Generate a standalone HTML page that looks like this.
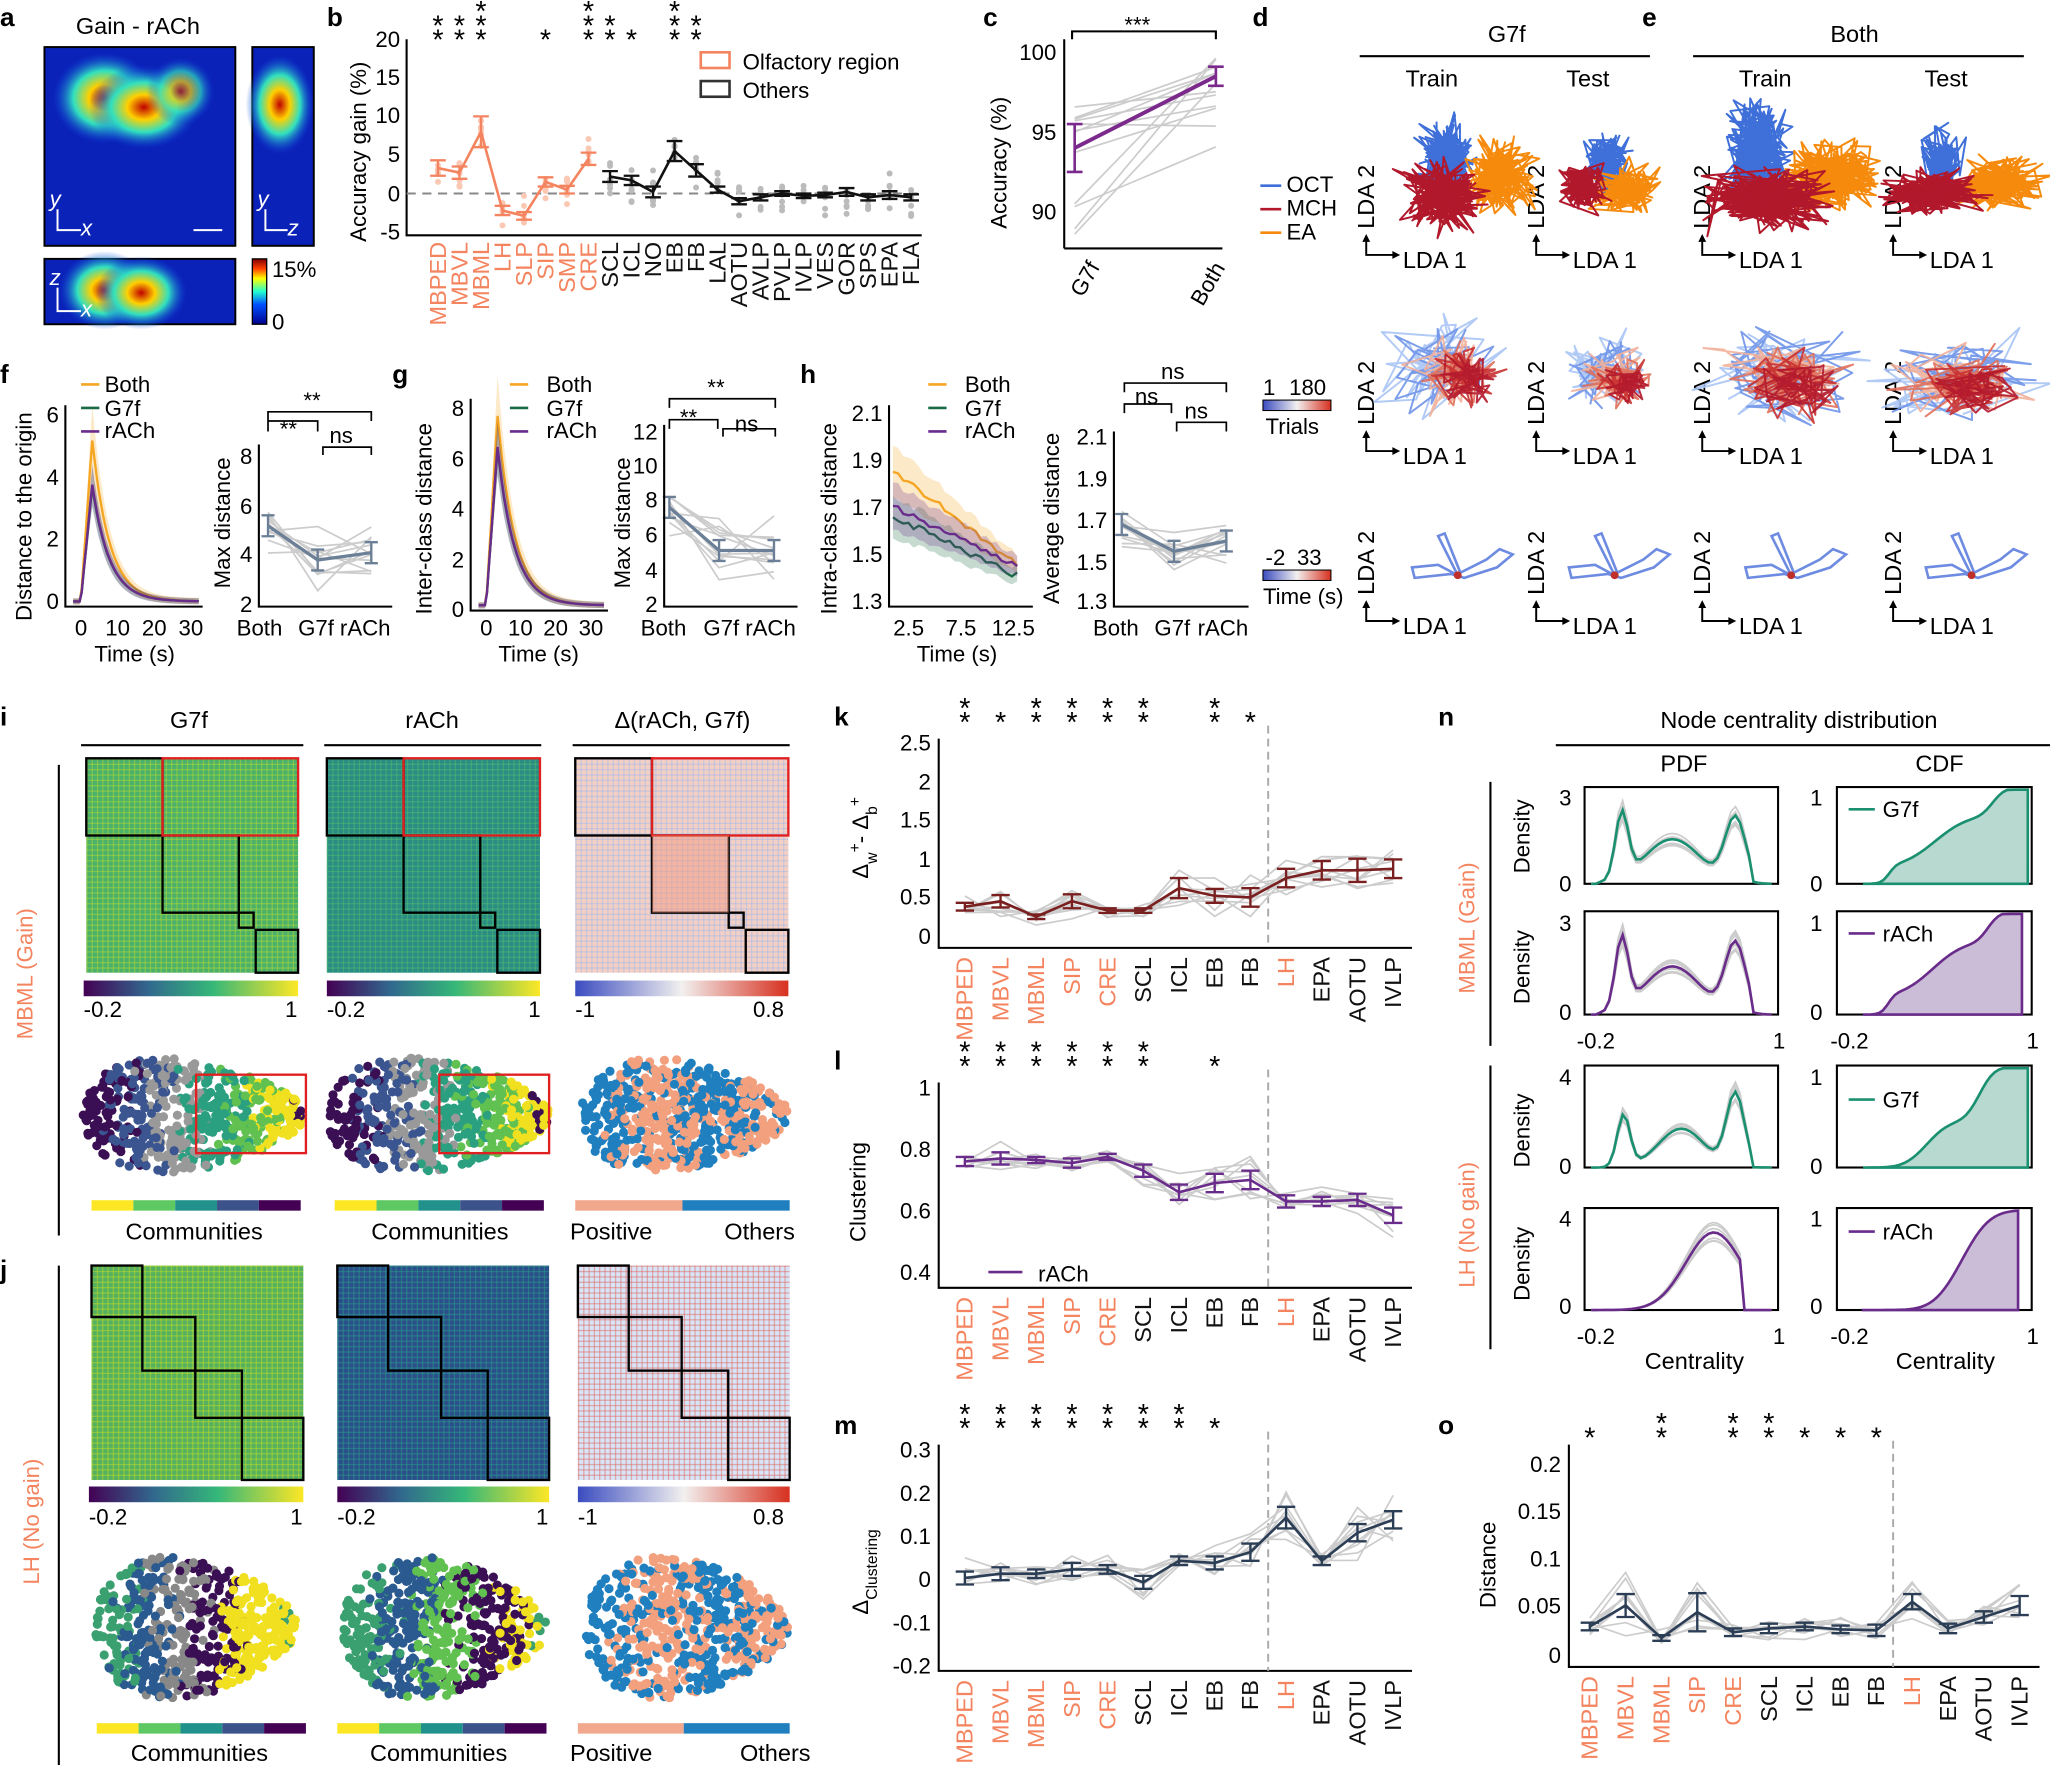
<!DOCTYPE html>
<html><head><meta charset="utf-8"><style>
html,body{margin:0;padding:0;background:#fff}
svg{display:block}
text{font-family:"Liberation Sans",Arial,sans-serif;font-size:17px;fill:#000}
.t{font-size:18px}
.b{font-weight:bold;font-size:20px}
.o{fill:#f4845f}
.ax{stroke:#000;stroke-width:1.6;fill:none}
.g{stroke:#ccc;stroke-width:1.3;fill:none}
</style></head><body>
<svg id="s" width="2050" height="1765" viewBox="0 0 1568 1350" xmlns="http://www.w3.org/2000/svg">
<defs>
<linearGradient id="jet" x1="0" y1="1" x2="0" y2="0"><stop offset="0" stop-color="#00008f"/><stop offset=".3" stop-color="#0050ff"/><stop offset=".5" stop-color="#20ffd0"/><stop offset=".7" stop-color="#ffff00"/><stop offset=".85" stop-color="#ff4000"/><stop offset="1" stop-color="#800000"/></linearGradient>
<linearGradient id="vir" x1="0" x2="1"><stop offset="0" stop-color="#440154"/><stop offset=".3" stop-color="#31688e"/><stop offset=".6" stop-color="#35b779"/><stop offset="1" stop-color="#fde725"/></linearGradient>
<linearGradient id="cw" x1="0" x2="1"><stop offset="0" stop-color="#3b4cc0"/><stop offset=".5" stop-color="#f2f0ef"/><stop offset="1" stop-color="#d7301f"/></linearGradient>
<radialGradient id="blob"><stop offset="0" stop-color="#c00000"/><stop offset=".3" stop-color="#ffd000"/><stop offset=".6" stop-color="#30e0c0"/><stop offset="1" stop-color="#1040e0" stop-opacity="0"/></radialGradient>
</defs>
<g id="dyn"></g>
<text class="b" x="0" y="20">a</text><text class="b" x="250" y="20">b</text><text class="b" x="752" y="20">c</text>
<text class="b" x="958" y="20">d</text><text class="b" x="1256" y="20">e</text>
<text class="b" x="0" y="293">f</text><text class="b" x="300" y="293">g</text><text class="b" x="612" y="293">h</text>
<text class="b" x="0" y="555">i</text><text class="b" x="0" y="978">j</text><text class="b" x="638" y="555">k</text>
<text class="b" x="638" y="818">l</text><text class="b" x="638" y="1097">m</text><text class="b" x="1100" y="555">n</text><text class="b" x="1100" y="1097">o</text>
<!-- a -->
<text class="t" x="58" y="26">Gain - rACh</text>
<rect x="34" y="36" width="146" height="152" fill="#0a22b8" stroke="#000" stroke-width="1.5"/>
<ellipse cx="80" cy="75" rx="40" ry="35" fill="url(#blob)"/><ellipse cx="110" cy="82" rx="42" ry="32" fill="url(#blob)"/><ellipse cx="138" cy="70" rx="26" ry="26" fill="url(#blob)" opacity=".7"/>
<rect x="193" y="36" width="47" height="152" fill="#0a22b8" stroke="#000" stroke-width="1.5"/>
<ellipse cx="214" cy="80" rx="26" ry="38" fill="url(#blob)"/>
<rect x="34" y="198" width="146" height="50" fill="#0a22b8" stroke="#000" stroke-width="1.5"/>
<ellipse cx="80" cy="222" rx="35" ry="30" fill="url(#blob)"/><ellipse cx="108" cy="224" rx="35" ry="28" fill="url(#blob)"/>
<rect x="193" y="198" width="11" height="50" fill="url(#jet)" stroke="#000"/>
<text x="208" y="212">15%</text><text x="208" y="252">0</text>
<g stroke="#fff" stroke-width="1.5" fill="none"><path d="M44 160V176H62"/><path d="M203 160V176H220"/><path d="M44 220V238H62"/><path d="M148 176H170"/></g>
<g style="font-style:italic"><text x="38" y="158" style="fill:#fff">y</text><text x="62" y="180" style="fill:#fff">x</text><text x="197" y="158" style="fill:#fff">y</text><text x="220" y="180" style="fill:#fff">z</text><text x="38" y="218" style="fill:#fff">z</text><text x="62" y="242" style="fill:#fff">x</text></g>
<!-- b -->
<path class="ax" d="M311 30V180H705"/>
<g text-anchor="end"><text x="306" y="36">20</text><text x="306" y="65">15</text><text x="306" y="94">10</text><text x="306" y="124">5</text><text x="306" y="154">0</text><text x="306" y="183">-5</text></g>
<path d="M311 148H705" stroke="#888" stroke-width="1.5" stroke-dasharray="7,5"/>
<text transform="translate(280,185) rotate(-90)">Accuracy gain (%)</text>
<g id="blabels"></g>
<rect x="536" y="40" width="22" height="12" fill="none" stroke="#f4845f" stroke-width="2"/><text x="568" y="53">Olfactory region</text>
<rect x="536" y="62" width="22" height="12" fill="none" stroke="#333" stroke-width="2"/><text x="568" y="75">Others</text>
<!-- c -->
<path class="ax" d="M814 30V190"/><path class="ax" d="M814 190H935"/>
<g text-anchor="end"><text x="808" y="46">100</text><text x="808" y="107">95</text><text x="808" y="168">90</text></g>
<text transform="translate(770,175) rotate(-90)">Accuracy (%)</text>
<path d="M820 30V24H930V30" class="ax"/><text x="860" y="25">***</text>
<text transform="translate(828,228) rotate(-60)">G7f</text><text transform="translate(920,235) rotate(-60)">Both</text>
<!-- d/e headers -->
<text class="t" x="1138" y="32">G7f</text><path class="ax" d="M1040 43H1262"/>
<text class="t" x="1400" y="32">Both</text><path class="ax" d="M1295 43H1548"/>
<text class="t" x="1075" y="66">Train</text><text class="t" x="1198" y="66">Test</text><text class="t" x="1330" y="66">Train</text><text class="t" x="1472" y="66">Test</text>
<text x="984" y="147">OCT</text><text x="984" y="165">MCH</text><text x="984" y="183">EA</text>
<path d="M964 142h16" stroke="#3f6fd8" stroke-width="2"/><path d="M964 160h16" stroke="#b2182b" stroke-width="2"/><path d="M964 178h16" stroke="#f58a0c" stroke-width="2"/>
<text x="966" y="302">1</text><text x="986" y="302">180</text><rect x="966" y="306" width="52" height="8" fill="url(#cw)" stroke="#000" stroke-width=".8"/><text x="968" y="332">Trials</text>
<text x="968" y="432">-2</text><text x="992" y="432">33</text><rect x="966" y="436" width="52" height="8" fill="url(#cw)" stroke="#000" stroke-width=".8"/><text x="966" y="462">Time (s)</text>
<g id="lda"></g>
<!-- f -->
<text x="80" y="300">Both</text><text x="80" y="318">G7f</text><text x="80" y="335">rACh</text>
<path d="M62 294h14" stroke="#f5a623" stroke-width="2"/><path d="M62 312h14" stroke="#1a6b45" stroke-width="2"/><path d="M62 330h14" stroke="#6a2c8a" stroke-width="2"/>
<path class="ax" d="M50 310V464H155"/>
<g text-anchor="end"><text x="45" y="323">6</text><text x="45" y="371">4</text><text x="45" y="418">2</text><text x="45" y="466">0</text></g>
<g text-anchor="middle"><text x="62" y="486">0</text><text x="90" y="486">10</text><text x="118" y="486">20</text><text x="146" y="486">30</text><text x="103" y="506">Time (s)</text></g>
<text transform="translate(24,475) rotate(-90)">Distance to the origin</text>
<path class="ax" d="M198 340V464H300"/>
<g text-anchor="end"><text x="193" y="355">8</text><text x="193" y="393">6</text><text x="193" y="430">4</text><text x="193" y="468">2</text></g>
<text transform="translate(176,450) rotate(-90)">Max distance</text>
<text x="181" y="486">Both</text><text x="228" y="486">G7f</text><text x="260" y="486">rACh</text>
<path class="ax" d="M205 322V315H284V322M205 330V322H243V330M247 348V342H284V348" style="stroke-width:1.3"/><text x="232" y="312">**</text><text x="214" y="334">**</text><text x="252" y="339">ns</text>
<!-- g -->
<text x="418" y="300">Both</text><text x="418" y="318">G7f</text><text x="418" y="335">rACh</text>
<path d="M390 294h14" stroke="#f5a623" stroke-width="2"/><path d="M390 312h14" stroke="#1a6b45" stroke-width="2"/><path d="M390 330h14" stroke="#6a2c8a" stroke-width="2"/>
<path class="ax" d="M360 305V467H465"/>
<g text-anchor="end"><text x="355" y="318">8</text><text x="355" y="357">6</text><text x="355" y="395">4</text><text x="355" y="434">2</text><text x="355" y="472">0</text></g>
<g text-anchor="middle"><text x="372" y="486">0</text><text x="398" y="486">10</text><text x="425" y="486">20</text><text x="452" y="486">30</text><text x="412" y="506">Time (s)</text></g>
<text transform="translate(330,470) rotate(-90)">Inter-class distance</text>
<path class="ax" d="M508 325V464H610"/>
<g text-anchor="end"><text x="503" y="336">12</text><text x="503" y="362">10</text><text x="503" y="388">8</text><text x="503" y="415">6</text><text x="503" y="442">4</text><text x="503" y="468">2</text></g>
<text transform="translate(482,450) rotate(-90)">Max distance</text>
<text x="490" y="486">Both</text><text x="538" y="486">G7f</text><text x="570" y="486">rACh</text>
<path class="ax" d="M512 312V305H593V312M512 328V321H549V328M553 334V328H593V334" style="stroke-width:1.3"/><text x="541" y="302">**</text><text x="520" y="325">**</text><text x="562" y="330">ns</text>
<!-- h -->
<text x="738" y="300">Both</text><text x="738" y="318">G7f</text><text x="738" y="335">rACh</text>
<path d="M710 294h14" stroke="#f5a623" stroke-width="2"/><path d="M710 312h14" stroke="#1a6b45" stroke-width="2"/><path d="M710 330h14" stroke="#6a2c8a" stroke-width="2"/>
<path class="ax" d="M680 310V464H790"/>
<g text-anchor="end"><text x="675" y="322">2.1</text><text x="675" y="358">1.9</text><text x="675" y="394">1.7</text><text x="675" y="430">1.5</text><text x="675" y="466">1.3</text></g>
<g text-anchor="middle"><text x="695" y="486">2.5</text><text x="735" y="486">7.5</text><text x="775" y="486">12.5</text><text x="732" y="506">Time (s)</text></g>
<text transform="translate(640,470) rotate(-90)">Intra-class distance</text>
<path class="ax" d="M852 330V464H955"/>
<g text-anchor="end"><text x="847" y="340">2.1</text><text x="847" y="372">1.9</text><text x="847" y="404">1.7</text><text x="847" y="436">1.5</text><text x="847" y="466">1.3</text></g>
<text transform="translate(810,462) rotate(-90)">Average distance</text>
<text x="836" y="486">Both</text><text x="883" y="486">G7f</text><text x="916" y="486">rACh</text>
<path class="ax" d="M860 300V293H938V300M860 316V309H896V316M900 330V323H938V330" style="stroke-width:1.3"/><text x="888" y="290">ns</text><text x="868" y="309">ns</text><text x="906" y="320">ns</text>
<!-- i / j -->
<text class="t" x="130" y="557">G7f</text><text class="t" x="310" y="557">rACh</text><text class="t" x="470" y="557">Δ(rACh, G7f)</text>
<path class="ax" d="M62 570H232M248 570H414M438 570H604"/>
<path class="ax" d="M45 585V945M45 968V1350"/>
<text transform="translate(25,795) rotate(-90)" style="fill:#f4845f">MBML (Gain)</text>
<text transform="translate(30,1212) rotate(-90)" style="fill:#f4845f">LH (No gain)</text>
<g id="mats"></g>
<g><text x="64" y="778">-0.2</text><text x="218" y="778">1</text><text x="250" y="778">-0.2</text><text x="404" y="778">1</text><text x="440" y="778">-1</text><text x="576" y="778">0.8</text></g>
<g><text x="68" y="1166">-0.2</text><text x="222" y="1166">1</text><text x="258" y="1166">-0.2</text><text x="410" y="1166">1</text><text x="442" y="1166">-1</text><text x="576" y="1166">0.8</text></g>
<text class="t" x="96" y="948">Communities</text><text class="t" x="284" y="948">Communities</text><text class="t" x="436" y="948">Positive</text><text class="t" x="554" y="948">Others</text>
<text class="t" x="100" y="1347">Communities</text><text class="t" x="283" y="1347">Communities</text><text class="t" x="436" y="1347">Positive</text><text class="t" x="566" y="1347">Others</text>
<!-- k l m o axes -->
<path class="ax" d="M718 565V725H1080"/>
<g text-anchor="end"><text x="712" y="574">2.5</text><text x="712" y="604">2</text><text x="712" y="633">1.5</text><text x="712" y="663">1</text><text x="712" y="692">0.5</text><text x="712" y="722">0</text></g>
<text transform="translate(664,672) rotate(-90)">Δ<tspan baseline-shift="sub" font-size="12">w</tspan><tspan baseline-shift="super" font-size="12">+</tspan>- Δ<tspan baseline-shift="sub" font-size="12">b</tspan><tspan baseline-shift="super" font-size="12">+</tspan></text>
<path class="ax" d="M718 828V985H1080"/>
<g text-anchor="end"><text x="712" y="838">1</text><text x="712" y="885">0.8</text><text x="712" y="932">0.6</text><text x="712" y="979">0.4</text></g>
<text transform="translate(662,950) rotate(-90)">Clustering</text>
<path d="M756 973h26" stroke="#6a2c8a" stroke-width="2"/><text x="794" y="980">rACh</text>
<path class="ax" d="M718 1105V1278H1080"/>
<g text-anchor="end"><text x="712" y="1115">0.3</text><text x="712" y="1148">0.2</text><text x="712" y="1181">0.1</text><text x="712" y="1214">0</text><text x="712" y="1247">-0.1</text><text x="712" y="1280">-0.2</text></g>
<text transform="translate(664,1235) rotate(-90)">Δ<tspan baseline-shift="sub" font-size="12">Clustering</tspan></text>
<path class="ax" d="M1200 1105V1275H1560"/>
<g text-anchor="end"><text x="1194" y="1126">0.2</text><text x="1194" y="1162">0.15</text><text x="1194" y="1198">0.1</text><text x="1194" y="1234">0.05</text><text x="1194" y="1272">0</text></g>
<text transform="translate(1144,1230) rotate(-90)">Distance</text>
<g id="cats"></g>
<!-- n -->
<text class="t" x="1270" y="557">Node centrality distribution</text><path class="ax" d="M1190 570H1568"/>
<text class="t" x="1270" y="590">PDF</text><text class="t" x="1465" y="590">CDF</text>
<path class="ax" d="M1140 598V800M1140 815V1032"/>
<text transform="translate(1128,760) rotate(-90)" style="fill:#f4845f">MBML (Gain)</text>
<text transform="translate(1128,985) rotate(-90)" style="fill:#f4845f">LH (No gain)</text>
<g id="ndist"></g>
<g text-anchor="end"><text x="1202" y="616">3</text><text x="1202" y="682">0</text><text x="1202" y="712">3</text><text x="1202" y="780">0</text><text x="1202" y="830">4</text><text x="1202" y="898">0</text><text x="1202" y="938">4</text><text x="1202" y="1005">0</text>
<text x="1394" y="616">1</text><text x="1394" y="682">0</text><text x="1394" y="712">1</text><text x="1394" y="780">0</text><text x="1394" y="830">1</text><text x="1394" y="898">0</text><text x="1394" y="938">1</text><text x="1394" y="1005">0</text></g>
<g><text transform="translate(1170,668) rotate(-90)">Density</text><text transform="translate(1170,768) rotate(-90)">Density</text><text transform="translate(1170,893) rotate(-90)">Density</text><text transform="translate(1170,995) rotate(-90)">Density</text></g>
<text x="1206" y="802">-0.2</text><text x="1356" y="802">1</text><text x="1400" y="802">-0.2</text><text x="1550" y="802">1</text>
<text x="1206" y="1028">-0.2</text><text x="1356" y="1028">1</text><text x="1400" y="1028">-0.2</text><text x="1550" y="1028">1</text>
<text class="t" x="1258" y="1047">Centrality</text><text class="t" x="1450" y="1047">Centrality</text>
<text x="1440" y="625">G7f</text><text x="1440" y="720">rACh</text><text x="1440" y="847">G7f</text><text x="1440" y="948">rACh</text>
<path d="M1414 619h20M1414 841h20" stroke="#1a9070" stroke-width="2"/><path d="M1414 714h20M1414 942h20" stroke="#6a2c8a" stroke-width="2"/>
</svg>
<script>
(function(){
var NS="http://www.w3.org/2000/svg",seed=7;
function R(){seed=(seed*16807)%2147483647;return seed/2147483647;}
function G(){return (R()+R()+R()-1.5)/1.5;}
function el(p,t,a){var e=document.createElementNS(NS,t);for(var k in a)e.setAttribute(k,a[k]);p.appendChild(e);return e;}
function tx(p,x,y,s,a){var e=el(p,"text",Object.assign({x:x,y:y},a||{}));e.textContent=s;return e;}
function stars(p,x,yb,n){for(var j=0;j<n;j++)tx(p,x,yb-j*11,"*",{"text-anchor":"middle",style:"font-size:22px"});}
var dyn=document.getElementById("dyn");
[[34,36,146,152],[193,36,47,152],[34,198,146,50]].forEach(function(b){for(var i=0;i<b[2]*b[3]/30;i++){el(dyn,"rect",{x:b[0]+R()*(b[2]-4),y:b[1]+R()*(b[3]-4),width:4,height:4,fill:R()<.5?"#1850e0":"#0010a0",opacity:.5});}});
var bl=document.getElementById("blabels");
var names=["MBPED","MBVL","MBML","LH","SLP","SIP","SMP","CRE","SCL","ICL","NO","EB","FB","LAL","AOTU","AVLP","PVLP","IVLP","VES","GOR","SPS","EPA","FLA"];
var vals=[3.3,2.7,8,-2.2,-2.9,1.5,.5,4.5,2.2,1.7,.2,5.5,3,.5,-1,-.5,0,-.3,-.2,.2,-.5,-.2,-.5];
var errs=[1,.8,2,.6,.5,.6,.5,.8,.7,.6,.7,1.3,.8,.4,.4,.4,.3,.3,.3,.5,.4,.5,.4];
var st={0:2,1:2,2:3,5:1,7:3,8:2,9:1,11:3,12:2};
function by(v){return 148-5.9*v;}
var po="",pk="";
names.forEach(function(n,i){var x=335+16.45*i,oc=i<8,c=oc?"#f4845f":"#111";
 for(var j=0;j<7;j++)el(bl,"circle",{cx:x,cy:by(vals[i]+G()*4),r:2.3,fill:oc?"#fbc8b4":"#bbb"});
 var y=by(vals[i]);if(oc)po+=(po?"L":"M")+x+" "+y;else pk+=(pk?"L":"M")+x+" "+y;
 el(bl,"path",{d:"M"+x+" "+by(vals[i]+errs[i])+"V"+by(vals[i]-errs[i])+"M"+(x-6)+" "+by(vals[i]+errs[i])+"h12M"+(x-6)+" "+by(vals[i]-errs[i])+"h12",stroke:c,"stroke-width":1.8,fill:"none"});
 tx(bl,0,0,n,{transform:"translate("+(x+6)+",185) rotate(-90)","text-anchor":"end",style:"fill:"+c+";font-size:18px"});
 if(st[i])stars(bl,x,38,st[i]);
});
el(bl,"path",{d:po,stroke:"#f4845f","stroke-width":2,fill:"none"});el(bl,"path",{d:pk,stroke:"#111","stroke-width":2,fill:"none"});
function cy(v){return 40+(100-v)*12.2;}
for(var i=0;i<12;i++){var a=88.5+R()*9,b=94+R()*6;el(dyn,"path",{d:"M822 "+cy(a)+"L930 "+cy(Math.min(b,100)),class:"g"});}
el(dyn,"path",{d:"M822 "+cy(94)+"L930 "+cy(98.5),stroke:"#7b2a8c","stroke-width":3,fill:"none"});
el(dyn,"path",{d:"M822 "+cy(92.5)+"V"+cy(95.5)+"M816 "+cy(92.5)+"h12M816 "+cy(95.5)+"h12M930 "+cy(97.9)+"V"+cy(99.1)+"M924 "+cy(97.9)+"h12M924 "+cy(99.1)+"h12",stroke:"#7b2a8c","stroke-width":2,fill:"none"});
var L=document.getElementById("lda");
var cols=[1045,1175,1302,1448],rows=[195,345,475];
rows.forEach(function(ry){cols.forEach(function(cx){
 el(L,"path",{d:"M"+cx+" "+(ry-12)+"V"+ry+"H"+(cx+22),stroke:"#000","stroke-width":1.5,fill:"none"});
 el(L,"path",{d:"M"+(cx-3)+" "+(ry-10)+"L"+cx+" "+(ry-16)+"L"+(cx+3)+" "+(ry-10)+"ZM"+(cx+20)+" "+(ry-3)+"L"+(cx+26)+" "+ry+"L"+(cx+20)+" "+(ry+3)+"Z",fill:"#000"});
 tx(L,cx+28,ry+10,"LDA 1",{style:"font-size:18px"});
 tx(L,0,0,"LDA 2",{transform:"translate("+(cx+6)+","+(ry-20)+") rotate(-90)",style:"font-size:18px"});
});});
function scrib(cx,cy,sx,sy,col,n,w,op){var d="",x,y;for(var i=0;i<n;i++){x=cx+G()*sx*1.7;y=cy+G()*sy*1.7;d+=(i?"L":"M")+x.toFixed(1)+" "+y.toFixed(1);}el(L,"path",{d:d,stroke:col,"stroke-width":w||1.5,fill:"none",opacity:op||1,"stroke-linejoin":"round"});}
var B="#3f6fd8",Rd="#b2182b",O="#f58a0c";
[[1105,120,16,22,B],[1148,135,22,22,O],[1105,150,26,22,Rd]].forEach(function(q){for(var k=0;k<4;k++)scrib(q[0],q[1],q[2],q[3],q[4],60);});
[[1228,125,14,18,B],[1245,145,20,16,O],[1212,145,15,14,Rd]].forEach(function(q){for(var k=0;k<3;k++)scrib(q[0],q[1],q[2],q[3],q[4],50);});
[[1345,115,20,30,B],[1402,135,26,22,O],[1352,152,38,18,Rd]].forEach(function(q){for(var k=0;k<5;k++)scrib(q[0],q[1],q[2],q[3],q[4],60);});
[[1485,130,12,25,B],[1530,140,28,16,O],[1478,148,32,13,Rd]].forEach(function(q){for(var k=0;k<4;k++)scrib(q[0],q[1],q[2],q[3],q[4],50);});
var rc=["#a9c4f5","#6f93e8","#f2b09a","#e0705a","#c83030","#b2182b"];
[[1115,285,35,30],[1238,290,28,22],[1370,290,55,35],[1505,293,55,28]].forEach(function(q){for(var k=0;k<6;k++)scrib(q[0]+(k-3)*4,q[1]+(k-3)*2,q[2]*(1-k*.1),q[3]*(1-k*.1),rc[k],40,1.5,.9);});
[[1115,440],[1235,440],[1370,440],[1508,440]].forEach(function(q){var x=q[0],y=q[1];
 el(L,"path",{d:"M"+x+" "+y+"l-15 -30l5 -2l12 30l20 -10l10 -8l10 4l-12 10l-25 8l-10 -3l-28 3l-2 -8l20 -2z",stroke:"#5577dd","stroke-width":2,fill:"none",opacity:.85});
 el(L,"circle",{cx:x,cy:y,r:3,fill:"#c0302a"});});
function ts(x0,x1,y0,ys,col,band){var d="",n=ys.length;ys.forEach(function(v,i){d+=(i?"L":"M")+(x0+(x1-x0)*i/(n-1)).toFixed(1)+" "+(y0-v).toFixed(1);});
 if(band){var up="";ys.forEach(function(v,i){var x=(x0+(x1-x0)*i/(n-1)).toFixed(1);up+=(i?"L":"M")+x+" "+(y0-v-band*v/100-2);});for(var i=n-1;i>=0;i--){var x=(x0+(x1-x0)*i/(n-1)).toFixed(1);up+="L"+x+" "+(y0-ys[i]+band*ys[i]/100+2);}el(dyn,"path",{d:up+"Z",fill:col,opacity:.25});}
 el(dyn,"path",{d:d,stroke:col,"stroke-width":1.8,fill:"none"});}
function peak(h){var a=[];for(var i=0;i<60;i++){var t=i/59*33-2;var v=t<0?2:(t<3?2+(h-2)*t/3:2+(h-2)*Math.exp(-(t-3)/4.5));a.push(v);}return a;}
ts(56,152,462,peak(126),"#f5a623",20);ts(56,152,462,peak(90),"#1a6b45",15);ts(56,152,462,peak(92),"#6a2c8a",15);
ts(366,462,465,peak(148),"#f5a623",20);ts(366,462,465,peak(122),"#1a6b45",15);ts(366,462,465,peak(124),"#6a2c8a",15);
function dec(a,b){var r=[];for(var i=0;i<25;i++)r.push(((a+(b-a)*i/24+(R()-.5)*.03)-1.3)*180);return r;}
ts(683,778,460,dec(1.86,1.46),"#f5a623",18);ts(683,778,460,dec(1.66,1.41),"#1a6b45",22);ts(683,778,460,dec(1.7,1.45),"#6a2c8a",22);
function summ(xs,ys,ybase,sc,col,sp){for(var i=0;i<12;i++){var d="";xs.forEach(function(x,j){d+=(j?"L":"M")+x+" "+(ybase-(ys[j]+G()*sp)*sc);});el(dyn,"path",{d:d,class:"g"});}
 var d="";xs.forEach(function(x,i){d+=(i?"L":"M")+x+" "+(ybase-ys[i]*sc);});el(dyn,"path",{d:d,stroke:col,"stroke-width":2.5,fill:"none"});
 xs.forEach(function(x,i){var y=ybase-ys[i]*sc;el(dyn,"path",{d:"M"+x+" "+(y-8)+"V"+(y+8)+"M"+(x-5)+" "+(y-8)+"h10M"+(x-5)+" "+(y+8)+"h10",stroke:col,"stroke-width":1.8});});}
summ([205,243,284],[5.2,3.8,4.1],499.4,18.7,"#6b7f96",1.8);
summ([512,550,592],[7.6,5.1,5.1],488.4,13.2,"#6b7f96",2.5);
summ([858,898,938],[1.67,1.54,1.59],665,158,"#6b7f96",.15);
var C=document.getElementById("cats");
var kn=["MBPED","MBVL","MBML","SIP","CRE","SCL","ICL","EB","FB","LH","EPA","AOTU","IVLP"],org=[1,1,1,1,1,0,0,0,0,1,0,0,0];
function cat(x0,dx,ytop,ybot,fn,vals,errs,col,sa,dash,labY){
 kn.forEach(function(n,i){var x=x0+dx*i;tx(C,0,0,n,{transform:"translate("+(x+6)+","+labY+") rotate(-90)","text-anchor":"end",style:"font-size:18px;fill:"+(org[i]?"#f4845f":"#111")});
  if(sa[i])stars(C,x,ytop-5,sa[i]);});
 el(C,"path",{d:"M"+dash+" "+(ytop-10)+"V"+ybot,stroke:"#aaa","stroke-width":1.5,"stroke-dasharray":"6,4"});
 for(var k=0;k<9;k++){var d="";vals.forEach(function(v,i){d+=(i?"L":"M")+(x0+dx*i)+" "+fn(v+G()*errs[i]*4);});el(C,"path",{d:d,class:"g"});}
 var d="";vals.forEach(function(v,i){var x=x0+dx*i;d+=(i?"L":"M")+x+" "+fn(v);el(C,"path",{d:"M"+x+" "+fn(v+errs[i])+"V"+fn(v-errs[i])+"M"+(x-7)+" "+fn(v+errs[i])+"h14M"+(x-7)+" "+fn(v-errs[i])+"h14",stroke:col,"stroke-width":1.8});});
 el(C,"path",{d:d,stroke:col,"stroke-width":2,fill:"none"});}
cat(738,27.3,565,725,function(v){return 716-v*59.2;},[.38,.45,.25,.45,.33,.33,.62,.52,.5,.75,.85,.85,.87],[.05,.08,.03,.09,.03,.03,.13,.09,.12,.12,.12,.15,.12],"#7a1f1f",[2,1,2,2,2,2,0,2,1,0,0,0,0],970,732);
cat(738,27.3,828,985,function(v){return 973-(v-.4)*235;},[.76,.77,.765,.755,.775,.73,.66,.69,.70,.63,.63,.635,.585],[.015,.02,.01,.015,.01,.02,.025,.03,.03,.02,.015,.02,.025],"#6a2c8a",[2,2,2,2,2,2,0,1,0,0,0,0,0],970,992);
cat(738,27.3,1105,1278,function(v){return 1207-v*330;},[0,.01,.01,.02,.02,-.01,.04,.035,.06,.14,.04,.105,.135],[.015,.015,.01,.015,.01,.015,.01,.015,.02,.025,.01,.02,.02],"#2c3e55",[2,2,2,2,2,2,2,1,0,0,0,0,0],970,1285);
cat(1216,27.4,1112,1275,function(v){return 1266-v*730;},[.03,.052,.018,.045,.024,.028,.03,.027,.026,.056,.028,.04,.052],[.004,.012,.003,.02,.004,.005,.004,.004,.006,.008,.005,.006,.01],"#2c3e55",[1,0,2,0,2,2,1,1,1,0,0,0,0],1448,1282);
var M=document.getElementById("mats");
function mat(x,y,w,h,base,alt,blocks,red){el(M,"rect",{x:x,y:y,width:w,height:h,fill:base});
 for(var i=0;i<40;i++){el(M,"rect",{x:x+i*w/40,y:y,width:1,height:h,fill:alt,opacity:.45});el(M,"rect",{x:x,y:y+i*h/40,width:w,height:1,fill:alt,opacity:.45});}
 blocks.forEach(function(b){el(M,"rect",{x:x+b[0]*w,y:y+b[0]*h,width:b[1]*w,height:b[1]*h,fill:"none",stroke:"#000","stroke-width":1.8});});
 if(red)el(M,"rect",{x:x+red[0]*w,y:y,width:red[1]*w,height:red[2]*h,fill:"none",stroke:"#e02020","stroke-width":1.8});}
var b1=[[0,.36],[.36,.36],[.72,.07],[.8,.2]];
mat(66,580,162,164,"#4bb06a","#b9de30",b1,[.36,.64,.36]);mat(250,580,163,164,"#2a8c85","#52c06a",b1,[.36,.64,.36]);mat(440,580,163,164,"#f4d0c4","#9bb8f0",b1,[.36,.64,.36]);
el(M,"rect",{x:440+.36*163,y:580+.36*164,width:.36*163,height:.36*164,fill:"#f39a80",opacity:.5});
var b2=[[0,.24],[.24,.25],[.49,.22],[.71,.29]];
mat(70,968,162,164,"#55b060","#c8e020",b2);mat(258,968,162,164,"#2b4f8a","#29a588",b2);mat(442,968,162,164,"#d8e4f8","#e06050",b2);
[[64,750,164],[250,750,163],[440,750,163],[68,1137,164],[258,1137,162],[442,1137,162]].forEach(function(c,i){el(M,"rect",{x:c[0],y:c[1],width:c[2],height:12,fill:i%3==2?"url(#cw)":"url(#vir)"});});
function brain(cx,cy,rw,rh,cols,rect){for(var i=0;i<600;i++){var a=R()*6.283,r=Math.sqrt(R());var x=cx+Math.cos(a)*r*rw,y=cy+Math.sin(a)*r*rh*(1-0.3*(x-cx)/rw);var c=cols[Math.floor(((x-cx)/rw+1)/2*cols.length+(R()-.5)*1.2)]||cols[0];el(M,"circle",{cx:x,cy:y,r:3.5,fill:c});}
 if(rect)el(M,"rect",{x:rect[0],y:rect[1],width:rect[2],height:rect[3],fill:"none",stroke:"#e02020","stroke-width":1.8});}
var vc=["#3b0f54","#3a5590","#999","#2aa080","#60c050","#f0e020"],pc=["#1f7fbf","#f2a07e","#1f7fbf","#f2a07e"];
brain(148,853,85,42,vc,[150,822,84,60]);brain(335,853,85,42,vc,[336,822,84,60]);brain(523,853,80,42,pc);
brain(150,1245,78,52,["#3ba070","#2a5a90","#888","#3b0f54","#f0e020","#f0e020"]);brain(340,1245,78,52,["#3ba070","#2a5a90","#60c050","#3b0f54","#f0e020"]);brain(525,1245,78,52,pc);
[[70,918,160],[256,918,160],[440,918,164],[74,1318,160],[258,1318,160],[442,1318,162]].forEach(function(c,i){var cs=i%3==2?["#f2a88c","#1f7fbf"]:["#fde725","#5ec962","#21918c","#3b528b","#440154"];cs.forEach(function(k,j){el(M,"rect",{x:c[0]+j*c[2]/cs.length,y:c[1],width:c[2]/cs.length,height:8,fill:k});});});
var N=document.getElementById("ndist");
function pdf(x,y,w,h,col,shape){el(N,"rect",{x:x,y:y,width:w,height:h,fill:"none",stroke:"#000","stroke-width":1.6});
 for(var k=0;k<8;k++){var d="",f=0.85+R()*.3;for(var i=0;i<=40;i++){var t=i/40;d+=(i?"L":"M")+(x+5+t*(w-10))+" "+(y+h-shape(t)*(h-12)*f);}el(N,"path",{d:d,class:"g"});}
 var d="";for(var i=0;i<=40;i++){var t=i/40;d+=(i?"L":"M")+(x+5+t*(w-10))+" "+(y+h-shape(t)*(h-12));}el(N,"path",{d:d,stroke:col,"stroke-width":2,fill:"none"});}
function cdf(x,y,w,h,col,fill,shape,end){el(N,"rect",{x:x,y:y,width:w,height:h,fill:"none",stroke:"#000","stroke-width":1.6});
 var d="M"+(x+20)+" "+(y+h);var tot=0,ar=[];for(var i=0;i<=40;i++){tot+=shape(i/40);ar.push(tot);}
 for(var i=0;i<=40;i++){var t=i/40;d+="L"+(x+20+t*(w*end-20))+" "+(y+h-ar[i]/tot*(h-2));}
 d+="L"+(x+w*end)+" "+(y+h)+"Z";el(N,"path",{d:d,fill:fill,stroke:col,"stroke-width":2});}
function g(t,m,s){return Math.exp(-Math.pow((t-m)/s,2));}
var s1=function(t){return t<.05?0:.8*g(t,.17,.05)+.55*g(t,.45,.22)+.8*g(t,.8,.08)*(t<.9?1:0.1);};
var s2=function(t){return t<.05?0:.55*g(t,.4,.15)+.95*g(t,.72,.1)*(t<.86?1:0.05);};
pdf(1212,602,148,74,"#1a9070",s1);pdf(1212,697,148,79,"#6a2c8a",s1);pdf(1212,815,148,78,"#1a9070",function(t){return t<.05?0:.6*g(t,.18,.05)+.45*g(t,.5,.18)+.85*g(t,.8,.07)*(t<.9?1:0);});pdf(1212,924,148,78,"#6a2c8a",function(t){return .9*g(t,.68,.22)*(t<.84?1:0);});
cdf(1405,602,149,74,"#1a9070","#b7d9cf",s1,.98);cdf(1405,697,149,79,"#6a2c8a","#cbbcd8",s1,.95);cdf(1405,815,149,78,"#1a9070","#b7d9cf",s2,.98);cdf(1405,924,149,78,"#6a2c8a","#cbbcd8",function(t){return g(t,.65,.2);},.93);
})();
</script>
</body></html>
